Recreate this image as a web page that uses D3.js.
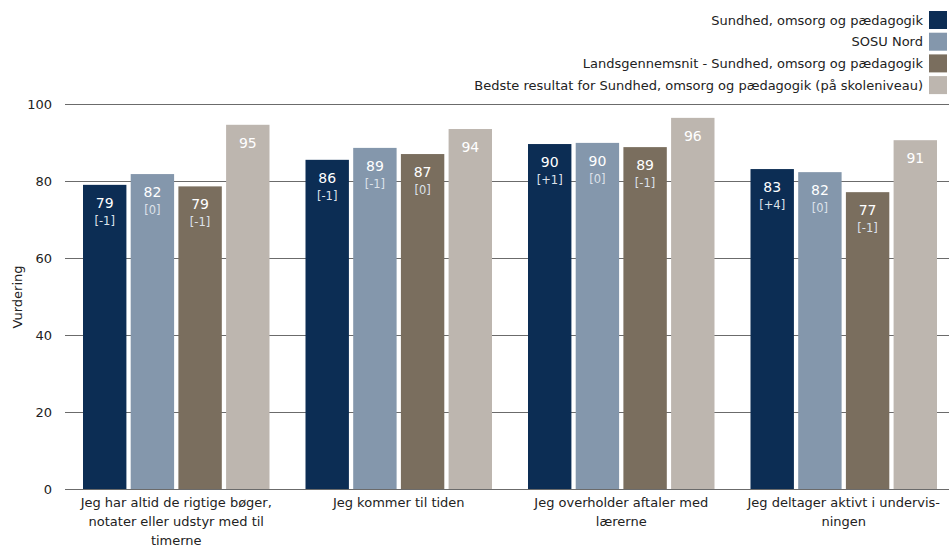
<html>
<head>
<script src="https://d3js.org/d3.v7.min.js"></script>
<style>
  body { margin: 0; background: #fff; }
  text { font-family: "DejaVu Sans", Verdana, sans-serif; }
</style>
</head>
<body>
<svg width="949" height="549"></svg>
<script>
// data
const categories = [
    ["Jeg har altid de rigtige bøger,", "notater eller udstyr med til", "timerne"],
    ["Jeg kommer til tiden"],
    ["Jeg overholder aftaler med", "lærerne"],
    ["Jeg deltager aktivt i undervis-", "ningen"]
];
const seriesNames = [
    "Sundhed, omsorg og pædagogik",
    "SOSU Nord",
    "Landsgennemsnit - Sundhed, omsorg og pædagogik",
    "Bedste resultat for Sundhed, omsorg og pædagogik (på skoleniveau)"
];
const seriesColors = ["#0c2d54", "#8497ac", "#7a6e5e", "#bdb6af"];
const values = [
    [79.0, 85.5, 89.6, 83.1],
    [81.8, 88.6, 89.9, 82.3],
    [78.6, 87.0, 88.8, 77.1],
    [94.6, 93.5, 96.4, 90.6]
];
const deltas = [
    ["-1", "-1", "+1", "+4"],
    ["0", "-1", "0", "0"],
    ["-1", "0", "-1", "-1"],
    null
];
const yTicks = [0, 20, 40, 60, 80, 100];

const svg = d3.select('svg');
const width = +svg.attr('width');

const x0 = d3.scaleBand().domain(d3.range(categories.length)).range([65, 955]).paddingInner(0).paddingOuter(0);
const x1 = d3.scaleBand().domain(d3.range(seriesNames.length)).range([18, x0.bandwidth() - 18]).paddingInner(0.09);
const y = d3.scaleLinear().domain([0, 100]).range([489, 104]);

// gridlines
svg.append('g').selectAll('line').data(yTicks).join('line')
    .attr('x1', 65).attr('x2', width)
    .attr('y1', d => Math.round(y(d)) + 0.5).attr('y2', d => Math.round(y(d)) + 0.5)
    .attr('stroke', '#6b6b6b').attr('stroke-width', 1);

svg.append('g').selectAll('text').data(yTicks).join('text')
    .attr('x', 52).attr('y', d => y(d)).attr('dy', '0.35em')
    .attr('text-anchor', 'end').attr('font-size', 13).attr('fill', '#222')
    .text(d => d);

svg.append('text')
    .attr('transform', 'translate(22,297) rotate(-90)')
    .attr('text-anchor', 'middle').attr('font-size', 13).attr('fill', '#222')
    .text('Vurdering');

// bars
const groups = svg.append('g').selectAll('g').data(categories).join('g')
    .attr('transform', (d, i) => `translate(${x0(i)},0)`);

groups.each(function(cat, ci) {
    const g = d3.select(this);
    seriesNames.forEach((s, si) => {
        const v = values[si][ci];
        const bx = x1(si);
        g.append('rect')
            .attr('x', bx).attr('y', y(v))
            .attr('width', x1.bandwidth()).attr('height', y(0) - y(v))
            .attr('fill', seriesColors[si]);
        g.append('text')
            .attr('x', bx + x1.bandwidth() / 2).attr('y', y(v) + 23)
            .attr('text-anchor', 'middle').attr('font-size', 14).attr('fill', '#fff')
            .text(d3.format('.0f')(v));
        if (deltas[si]) {
            g.append('text')
                .attr('x', bx + x1.bandwidth() / 2).attr('y', y(v) + 40)
                .attr('text-anchor', 'middle').attr('font-size', 11.5).attr('fill', '#dde2ea')
                .text('[' + deltas[si][ci] + ']');
        }
    });
    g.append('text')
        .attr('text-anchor', 'middle').attr('font-size', 13).attr('fill', '#222')
        .selectAll('tspan').data(cat).join('tspan')
        .attr('x', x0.bandwidth() / 2)
        .attr('y', (d, i) => 507 + i * 19)
        .text(d => d);
});

// legend
const legend = svg.append('g').selectAll('g').data(seriesNames).join('g')
    .attr('transform', (d, i) => `translate(0,${20 + i * 21.7})`);
legend.append('rect')
    .attr('x', 929).attr('y', -9).attr('width', 18).attr('height', 18)
    .attr('fill', (d, i) => seriesColors[i]);
legend.append('text')
    .attr('x', 923).attr('dy', '0.35em')
    .attr('text-anchor', 'end').attr('font-size', 13).attr('fill', '#222')
    .text(d => d);
</script>
</body>
</html>
